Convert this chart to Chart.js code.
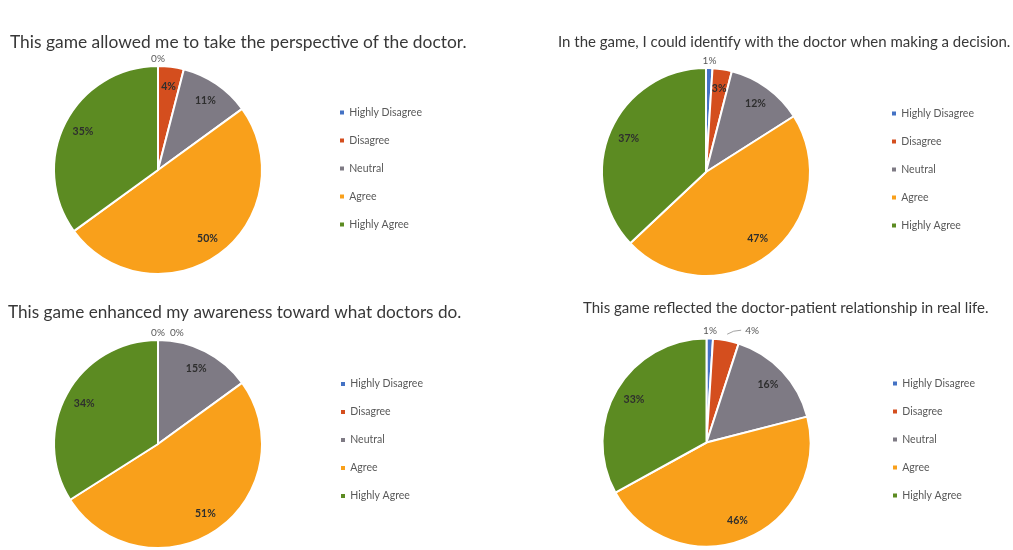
<!DOCTYPE html>
<html>
<head>
<meta charset="utf-8">
<script src="https://cdn.jsdelivr.net/npm/chart.js@4.4.1/dist/chart.umd.min.js"></script>
<style>
  html, body { margin: 0; padding: 0; background: #ffffff; }
  body { position: relative; width: 1013px; height: 550px; overflow: hidden; }
  canvas { position: absolute; }
</style>
</head>
<body>
<canvas id="perspective"></canvas>
<canvas id="identify"></canvas>
<canvas id="awareness"></canvas>
<canvas id="relationship"></canvas>
<script>
// Survey answer categories (legend order = slice order, clockwise from 12 o'clock)
const categories = ['Highly Disagree', 'Disagree', 'Neutral', 'Agree', 'Highly Agree'];

// Share of respondents per answer, in percent
const perspectiveValues  = [0, 4, 11, 50, 35];
const identifyValues     = [1, 3, 12, 47, 37];
const awarenessValues    = [0, 0, 15, 51, 34];
const relationshipValues = [1, 4, 16, 46, 33];

const questionTitles = [
  'This game allowed me to take the perspective of the doctor.',
  'In the game, I could identify with the doctor when making a decision.',
  'This game enhanced my awareness toward what doctors do.',
  'This game reflected the doctor-patient relationship in real life.'
];

const sliceColors = ['#4472C4', '#D44E1E', '#7E7A84', '#F9A01B', '#5C8B22'];

const FONT = 'Lato, "Open Sans", sans-serif';
const PIE_R = 104;
const LEGEND_PAD = 17.5;
const CANVAS_W = 720;

// Placement of each panel on the page
const panels = [
  { canvas: 'perspective',  values: perspectiveValues,  title: questionTitles[0],
    box: { left: 0,   top: 25,  height: 255 }, titleX: 10,  titleY: 42,  titleSize: 17.4,
    pieCx: 158,   pieCy: 170,   legendX: 340, legendMidY: 168.5, callouts: [] },
  { canvas: 'identify',     values: identifyValues,     title: questionTitles[1],
    box: { left: 540, top: 25,  height: 257 }, titleX: 558, titleY: 42,  titleSize: 15,
    pieCx: 706,   pieCy: 172,   legendX: 892, legendMidY: 169.5, callouts: [] },
  { canvas: 'awareness',    values: awarenessValues,    title: questionTitles[2],
    box: { left: 0,   top: 292, height: 258 }, titleX: 8,   titleY: 312, titleSize: 17.2,
    pieCx: 158,   pieCy: 444,   legendX: 341, legendMidY: 440, callouts: [] },
  { canvas: 'relationship', values: relationshipValues, title: questionTitles[3],
    box: { left: 560, top: 292, height: 258 }, titleX: 583, titleY: 308, titleSize: 15,
    pieCx: 706.5, pieCy: 442.5, legendX: 893, legendMidY: 439.5, callouts: [1] }
];

// Percentage labels: inside the slice, outside above tiny slices, or with a leader line
const pctLabels = {
  id: 'pctLabels',
  afterDatasetsDraw(chart, args, opts) {
    const ctx = chart.ctx;
    const meta = chart.getDatasetMeta(0);
    const values = chart.data.datasets[0].data;
    let lastRight = -Infinity;
    meta.data.forEach((arc, i) => {
      const p = arc.getProps(['x', 'y', 'startAngle', 'endAngle', 'outerRadius'], true);
      const mid = (p.startAngle + p.endAngle) / 2;
      const text = values[i] + '%';
      ctx.save();
      ctx.textBaseline = 'middle';
      if (opts.callouts.includes(i)) {
        const r1 = p.outerRadius * 1.06;
        const px = p.x + Math.cos(mid) * r1;
        const py = p.y + Math.sin(mid) * r1;
        ctx.strokeStyle = '#8a8a8a';
        ctx.lineWidth = 0.8;
        ctx.beginPath();
        ctx.moveTo(px, py);
        ctx.quadraticCurveTo(px + 6, py - 4, px + 14, py - 4);
        ctx.stroke();
        ctx.font = '10px ' + FONT;
        ctx.fillStyle = '#595959';
        ctx.textAlign = 'left';
        ctx.fillText(text, px + 18, py - 3);
      } else if (values[i] < opts.outsideBelow) {
        ctx.font = '10px ' + FONT;
        ctx.fillStyle = '#595959';
        ctx.textAlign = 'center';
        const w = ctx.measureText(text).width;
        let cx = p.x + Math.cos(mid) * p.outerRadius * 1.07;
        const cy = p.y + Math.sin(mid) * p.outerRadius * 1.07;
        if (cx - w / 2 < lastRight + 5) cx = lastRight + 5 + w / 2;
        ctx.fillText(text, cx, cy);
        lastRight = cx + w / 2;
      } else {
        ctx.font = 'bold 10.5px ' + FONT;
        ctx.fillStyle = '#2e2e2e';
        ctx.textAlign = 'center';
        const r = p.outerRadius * 0.81;
        ctx.fillText(text, p.x + Math.cos(mid) * r, p.y + Math.sin(mid) * r);
      }
      ctx.restore();
    });
  }
};

panels.forEach(pn => {
  const el = document.getElementById(pn.canvas);
  el.width = CANVAS_W;
  el.height = pn.box.height;
  el.style.left = pn.box.left + 'px';
  el.style.top = pn.box.top + 'px';

  const lh = pn.titleSize * 1.2;
  const areaTop = pn.pieCy - PIE_R - 1;
  const areaBottom = pn.pieCy + PIE_R + 1;
  const padTop = pn.titleY - pn.box.top - lh / 2;
  const padBottom = areaTop - pn.box.top - padTop - lh;
  const areaRight = 2 * pn.pieCx - pn.titleX;
  // widths of the blank spacers either side of the legend
  const gaps = { inner: pn.legendX - LEGEND_PAD - areaRight, outer: 40 };
  // blank legend heading used to push the legend items down
  const legendHead = { top: 0 };

  const spacer = (key, weight) => ({
    type: 'linear', position: 'right', weight: weight, display: true,
    ticks: { display: false }, grid: { display: false }, border: { display: false },
    afterFit: s => { s.width = gaps[key]; }
  });

  const chart = new Chart(el, {
    type: 'pie',
    data: {
      labels: categories,
      datasets: [{
        data: pn.values,
        backgroundColor: sliceColors,
        borderColor: '#ffffff',
        borderWidth: 2,
        hoverBorderWidth: 2,
        hoverOffset: 0,
        radius: PIE_R
      }]
    },
    options: {
      responsive: false,
      animation: false,
      devicePixelRatio: 1,
      events: [],
      layout: {
        padding: {
          left: pn.titleX - pn.box.left,
          right: 0,
          top: 0,
          bottom: pn.box.top + pn.box.height - areaBottom
        }
      },
      scales: {
        gapIn: spacer('inner', 0),
        gapOut: spacer('outer', 2000)
      },
      plugins: {
        title: {
          display: true,
          text: pn.title,
          align: 'start',
          color: '#383838',
          font: { family: FONT, size: pn.titleSize, weight: 'normal', lineHeight: 1.2 },
          padding: { top: padTop, bottom: padBottom }
        },
        legend: {
          position: 'right',
          title: {
            display: true,
            text: ' ',
            color: 'rgba(0,0,0,0)',
            font: { family: FONT, size: 1, lineHeight: 1 },
            padding: { top: 0, bottom: 0 }
          },
          labels: {
            boxWidth: 4,
            boxHeight: 4,
            padding: LEGEND_PAD,
            color: '#595959',
            font: { family: FONT, size: 10.5 },
            generateLabels: c => c.data.labels.map((t, i) => ({
              text: t,
              fillStyle: sliceColors[i],
              strokeStyle: sliceColors[i],
              lineWidth: 0,
              hidden: false,
              index: i,
              fontColor: '#595959'
            }))
          }
        },
        tooltip: { enabled: false },
        pctLabels: { outsideBelow: 2, callouts: pn.callouts }
      }
    },
    plugins: [pctLabels]
  });

  // the outer spacer takes whatever the legend leaves, so the plot keeps its centre
  gaps.outer = Math.max(0, CANVAS_W - (areaRight - pn.box.left) - gaps.inner - chart.legend.width);
  // centre the legend column on the requested height
  const legendMid = pn.box.top + (chart.legend.top + chart.legend.bottom) / 2;
  const shift = Math.max(0, 2 * (pn.legendMidY - legendMid) - 1);
  chart.options.plugins.legend.title.padding = { top: shift, bottom: 0 };
  chart.update();
});
</script>
</body>
</html>
